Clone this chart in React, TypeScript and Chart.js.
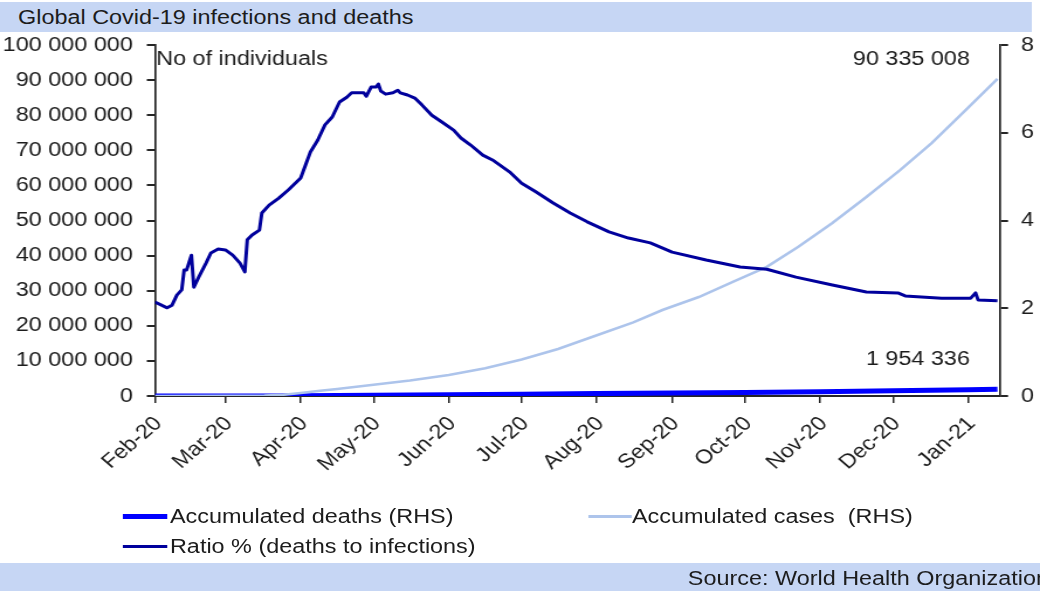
import React, { useEffect, useRef } from 'react';
import { Chart, registerables } from 'chart.js';

Chart.register(...registerables);

// ---------- text ----------
const titleText = 'Global Covid-19 infections and deaths';
const sourceText = 'Source: World Health Organization';
const leftAxisNote = 'No of individuals';
const casesEndLabel = '90 335 008';
const deathsEndLabel = '1 954 336';
const legendDeaths = 'Accumulated deaths (RHS)';
const legendCases = 'Accumulated cases  (RHS)';
const legendRatio = 'Ratio % (deaths to infections)';

// ---------- x axis (days since 1 Feb 2020) ----------
const monthLabels = ['Feb-20', 'Mar-20', 'Apr-20', 'May-20', 'Jun-20', 'Jul-20', 'Aug-20', 'Sep-20', 'Oct-20', 'Nov-20', 'Dec-20', 'Jan-21'];
const monthStartDays = [0, 29, 60, 90, 121, 151, 182, 213, 243, 274, 304, 335];
const lastDay = 348;

// ---------- series ----------
const ratioDays = [0, 5, 7, 9, 11, 12, 13, 15, 16, 18, 21, 23, 26, 29, 32, 35, 37, 38, 40, 43, 44, 47, 51, 55, 60, 64, 67, 70, 73, 76, 79, 81, 86, 87, 89, 91, 92, 93, 95, 98, 100, 101, 104, 107, 110, 114, 118, 123, 126, 130, 135, 139, 146, 151, 157, 164, 171, 178, 187, 195, 204, 213, 227, 241, 252, 264, 279, 293, 306, 309, 324, 336, 338, 339, 347];
const ratioValues = [2.14, 2.01, 2.07, 2.30, 2.42, 2.87, 2.87, 3.21, 2.48, 2.71, 3.03, 3.26, 3.35, 3.33, 3.21, 3.03, 2.83, 3.56, 3.67, 3.78, 4.17, 4.35, 4.51, 4.70, 4.97, 5.56, 5.83, 6.18, 6.36, 6.70, 6.81, 6.91, 6.91, 6.83, 7.04, 7.04, 7.11, 6.95, 6.88, 6.91, 6.97, 6.91, 6.86, 6.79, 6.63, 6.40, 6.25, 6.06, 5.88, 5.72, 5.49, 5.38, 5.11, 4.85, 4.65, 4.40, 4.17, 3.97, 3.74, 3.60, 3.49, 3.28, 3.10, 2.94, 2.89, 2.71, 2.53, 2.37, 2.35, 2.28, 2.23, 2.23, 2.35, 2.19, 2.17];

const casesDays = [0, 29, 45, 53, 60, 68, 75, 90, 105, 121, 136, 151, 166, 182, 197, 209, 224, 238, 252, 265, 279, 293, 307, 320, 334, 347];
const casesValues = [12000, 87000, 170000, 350000, 850000, 1500000, 2000000, 3200000, 4400000, 6000000, 7900000, 10400000, 13400000, 17300000, 21000000, 24500000, 28200000, 32500000, 36800000, 42500000, 49300000, 56700000, 64400000, 72100000, 81500000, 90335008];

const deathsDays = [0, 29, 45, 55, 60, 75, 90, 105, 121, 151, 182, 213, 243, 274, 304, 335, 347];
const deathsValues = [300, 3000, 7000, 30000, 45000, 140000, 230000, 300000, 370000, 510000, 680000, 850000, 1010000, 1180000, 1470000, 1800000, 1954336];

// ---------- style ----------
const SX = 1040 / 889; // the reference is stretched horizontally
const FONT = '"Liberation Sans", Arial, sans-serif';
const textColor = '#1c1c1c';
const axisColor = '#262626';
const barColor = '#C6D6F4';
const deathsColor = '#0000FF';
const casesColor = '#ADC4EB';
const ratioColor = '#00009C';

const fmtSpace = (v: number) => String(Math.round(v)).replace(/\B(?=(\d{3})+(?!\d))/g, ' ');

const toXY = (xs: number[], ys: number[]) => xs.map((x, i) => ({ x, y: ys[i] }));

export default function App() {
  const canvasRef = useRef<HTMLCanvasElement | null>(null);

  useEffect(() => {
    const canvas = canvasRef.current;
    if (!canvas) return;
    const tickFont = { family: FONT, size: 20 };

    const notesPlugin = {
      id: 'notes',
      afterDraw(chart: any) {
        const { ctx, chartArea } = chart;
        ctx.save();
        ctx.font = `20px ${FONT}`;
        ctx.fillStyle = textColor;
        ctx.textBaseline = 'alphabetic';
        ctx.textAlign = 'left';
        ctx.fillText(leftAxisNote, chartArea.left + 1, chartArea.top + 20);
        ctx.textAlign = 'right';
        ctx.fillText(casesEndLabel, chartArea.right - 25.6, chartArea.top + 20);
        ctx.fillText(deathsEndLabel, chartArea.right - 25.6, chartArea.bottom - 31);
        ctx.restore();
      },
    };

    const chart = new Chart(canvas, {
      type: 'line',
      data: {
        datasets: [
          {
            label: legendRatio,
            data: toXY(ratioDays, ratioValues),
            yAxisID: 'y1',
            borderColor: ratioColor,
            borderWidth: 3,
            pointRadius: 0,
            tension: 0,
            borderJoinStyle: 'round',
            order: 1,
          },
          {
            label: legendCases,
            data: toXY(casesDays, casesValues),
            yAxisID: 'y',
            borderColor: casesColor,
            borderWidth: 2.5,
            pointRadius: 0,
            tension: 0,
            order: 2,
          },
          {
            label: legendDeaths,
            data: toXY(deathsDays, deathsValues),
            yAxisID: 'y',
            borderColor: deathsColor,
            borderWidth: 5,
            pointRadius: 0,
            tension: 0,
            clip: 0,
            order: 3,
          },
        ],
      },
      options: {
        animation: false,
        responsive: false,
        events: [],
        layout: { padding: { top: 13, bottom: 0, left: 0, right: 0 } },
        plugins: {
          legend: { display: false },
          tooltip: { enabled: false },
          title: { display: false },
        },
        scales: {
          x: {
            type: 'linear',
            min: 0,
            max: lastDay,
            afterBuildTicks: (s: any) => {
              s.ticks = monthStartDays.map((v) => ({ value: v }));
            },
            afterFit: (s: any) => {
              s.height = 104;
              s.paddingLeft = 0;
              s.paddingRight = 0;
            },
            ticks: {
              autoSkip: false,
              minRotation: 45,
              maxRotation: 45,
              padding: 9,
              labelOffset: 3,
              font: tickFont,
              color: textColor,
              callback: (_v: any, i: number) => monthLabels[i],
            },
            grid: { drawOnChartArea: false, drawTicks: true, tickLength: 7, color: axisColor, lineWidth: 1.5 },
            border: { display: true, color: axisColor, width: 2 },
          },
          y: {
            position: 'left',
            min: 0,
            max: 100000000,
            afterFit: (s: any) => {
              s.width = 132.5;
              s.paddingTop = 0;
              s.paddingBottom = 0;
            },
            ticks: {
              stepSize: 10000000,
              padding: 12,
              font: tickFont,
              color: textColor,
              callback: (v: any) => fmtSpace(Number(v)),
            },
            grid: { drawOnChartArea: false, drawTicks: true, tickLength: 7, color: axisColor, lineWidth: 2 },
            border: { display: true, color: axisColor, width: 1.7 },
          },
          y1: {
            position: 'right',
            min: 0,
            max: 8,
            afterFit: (s: any) => {
              s.width = 889 - 854.7;
              s.paddingTop = 0;
              s.paddingBottom = 0;
            },
            ticks: {
              stepSize: 2,
              padding: 11,
              font: tickFont,
              color: textColor,
            },
            grid: { drawOnChartArea: false, drawTicks: true, tickLength: 7, color: axisColor, lineWidth: 2 },
            border: { display: true, color: axisColor, width: 1.7 },
          },
        },
      } as any,
      plugins: [notesPlugin],
    });

    return () => chart.destroy();
  }, []);

  const textStyle: React.CSSProperties = {
    position: 'absolute',
    fontFamily: FONT,
    fontSize: 20,
    color: textColor,
    whiteSpace: 'pre',
    lineHeight: '24px',
  };

  const legendItem = (left: number, top: number, color: string, thick: number, label: string, textLeft: number) => (
    <>
      <div style={{ position: 'absolute', left, top: top - thick / 2, width: 37.6, height: thick, background: color }} />
      <div style={{ ...textStyle, left: textLeft, top: top - 12 }}>{label}</div>
    </>
  );

  return (
    <div style={{ position: 'fixed', left: 0, top: 0, width: 1040, height: 591, overflow: 'hidden', background: '#fff' }}>
      <div style={{ position: 'absolute', left: 0, top: 0, width: 889, height: 591, transform: `scaleX(${SX})`, transformOrigin: '0 0' }}>
        <div style={{ position: 'absolute', left: 0, top: 2, width: 882, height: 30, background: barColor }} />
        <div style={{ ...textStyle, left: 15.4, top: 5 }}>{titleText}</div>

        <canvas ref={canvasRef} width={889} height={468} style={{ position: 'absolute', left: 0, top: 32, width: 889, height: 468, display: 'block' }} />

        {legendItem(105, 516, deathsColor, 5, legendDeaths, 145.3)}
        {legendItem(502.6, 516, casesColor, 3, legendCases, 540.2)}
        {legendItem(105, 546, ratioColor, 3, legendRatio, 145.3)}

        <div style={{ position: 'absolute', left: 0, top: 563, width: 889, height: 28, background: barColor, overflow: 'hidden' }}>
          <div style={{ ...textStyle, left: 588, top: 3 }}>{sourceText}</div>
        </div>
      </div>
    </div>
  );
}
